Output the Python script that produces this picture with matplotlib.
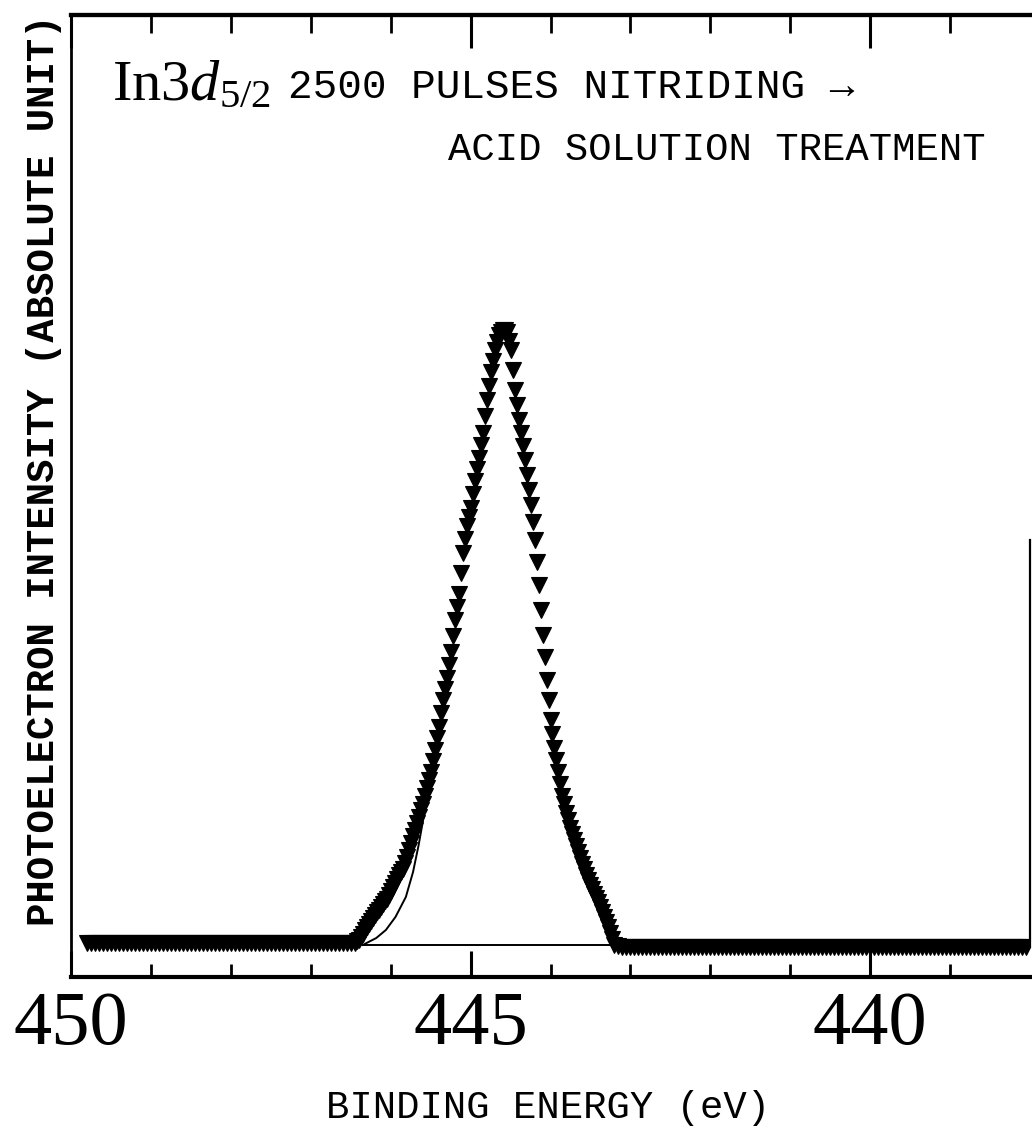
import matplotlib
matplotlib.use("Agg")
import matplotlib.pyplot as plt
from matplotlib.ticker import FixedLocator, NullFormatter, FixedFormatter

plt.rcParams['mathtext.fontset'] = 'custom'
plt.rcParams['mathtext.rm'] = 'Liberation Serif'
plt.rcParams['mathtext.it'] = 'Liberation Serif:italic'

# ---------------- data ----------------
left_base_energy = [
    449.80, 449.75, 449.70, 449.65, 449.60, 449.55, 449.50, 449.45, 449.40, 449.35,
    449.30, 449.25, 449.20, 449.15, 449.10, 449.05, 449.00, 448.95, 448.90, 448.85,
    448.80, 448.75, 448.70, 448.65, 448.60, 448.55, 448.50, 448.45, 448.40, 448.35,
    448.30, 448.25, 448.20, 448.15, 448.10, 448.05, 448.00, 447.95, 447.90, 447.85,
    447.80, 447.75, 447.70, 447.65, 447.60, 447.55, 447.50, 447.45, 447.40, 447.35,
    447.30, 447.25, 447.20, 447.15, 447.10, 447.05, 447.00, 446.95, 446.90, 446.85,
    446.80, 446.75, 446.70, 446.65, 446.60, 446.55, 446.50]
left_base_intensity = [
    0.34, 0.34, 0.34, 0.34, 0.34, 0.34, 0.34, 0.34, 0.34, 0.34,
    0.34, 0.34, 0.34, 0.34, 0.34, 0.34, 0.34, 0.34, 0.34, 0.34,
    0.34, 0.34, 0.34, 0.34, 0.34, 0.34, 0.34, 0.34, 0.34, 0.34,
    0.34, 0.34, 0.34, 0.34, 0.34, 0.34, 0.34, 0.34, 0.34, 0.34,
    0.34, 0.34, 0.34, 0.34, 0.34, 0.34, 0.34, 0.34, 0.34, 0.34,
    0.34, 0.34, 0.34, 0.34, 0.34, 0.34, 0.34, 0.34, 0.34, 0.34,
    0.34, 0.34, 0.34, 0.34, 0.34, 0.34, 0.34]

peak_energy = [
    446.450, 446.425, 446.400, 446.375, 446.350, 446.325, 446.300, 446.275,
    446.250, 446.225, 446.200, 446.175, 446.150, 446.125, 446.100, 446.075,
    446.050, 446.025, 446.000, 445.975, 445.950, 445.925, 445.900, 445.875,
    445.850, 445.825, 445.800, 445.775, 445.750, 445.725, 445.700, 445.675,
    445.650, 445.625, 445.600, 445.575, 445.550, 445.525, 445.500, 445.475,
    445.450, 445.425, 445.400, 445.375, 445.350, 445.325, 445.300, 445.275,
    445.250, 445.225, 445.200, 445.175, 445.150, 445.125, 445.100, 445.075,
    445.050, 445.025, 445.000, 444.975, 444.950, 444.925, 444.900, 444.875,
    444.850, 444.825, 444.800, 444.775, 444.750, 444.725, 444.700, 444.675,
    444.650, 444.625, 444.600, 444.575, 444.550, 444.525, 444.500, 444.475,
    444.450, 444.425, 444.400, 444.375, 444.350, 444.325, 444.300, 444.275,
    444.250, 444.225, 444.200, 444.175, 444.150, 444.125, 444.100, 444.075,
    444.050, 444.025, 444.000, 443.975, 443.950, 443.925, 443.900, 443.875,
    443.850, 443.825, 443.800, 443.775, 443.750, 443.725, 443.700, 443.675,
    443.650, 443.625, 443.600, 443.575, 443.550, 443.525, 443.500, 443.475,
    443.450, 443.425, 443.400, 443.375, 443.350, 443.325, 443.300, 443.275,
    443.250, 443.225, 443.200]
peak_intensity = [
    0.34, 0.36, 0.37, 0.40, 0.43, 0.47, 0.50, 0.53,
    0.56, 0.59, 0.62, 0.65, 0.67, 0.70, 0.73, 0.76,
    0.78, 0.82, 0.86, 0.90, 0.94, 0.98, 1.02, 1.05,
    1.08, 1.14, 1.20, 1.27, 1.34, 1.41, 1.47, 1.54,
    1.60, 1.67, 1.73, 1.81, 1.89, 1.97, 2.05, 2.16,
    2.27, 2.39, 2.50, 2.64, 2.77, 2.88, 2.99, 3.12,
    3.25, 3.41, 3.57, 3.70, 3.83, 4.04, 4.24, 4.38,
    4.51, 4.60, 4.69, 4.83, 4.96, 5.08, 5.19, 5.32,
    5.44, 5.61, 5.77, 5.91, 6.05, 6.16, 6.27, 6.35,
    6.42, 6.45, 6.47, 6.47, 6.45, 6.36, 6.27, 6.07,
    5.87, 5.72, 5.57, 5.44, 5.31, 5.17, 5.02, 4.87,
    4.72, 4.55, 4.37, 4.15, 3.92, 3.67, 3.42, 3.20,
    2.97, 2.77, 2.57, 2.43, 2.29, 2.17, 2.05, 1.93,
    1.81, 1.73, 1.64, 1.57, 1.49, 1.43, 1.37, 1.31,
    1.25, 1.19, 1.13, 1.08, 1.02, 0.97, 0.92, 0.88,
    0.83, 0.79, 0.75, 0.70, 0.65, 0.60, 0.55, 0.50,
    0.44, 0.38, 0.32]

right_base_energy = [
    443.15, 443.10, 443.05, 443.00, 442.95, 442.90, 442.85, 442.80, 442.75, 442.70,
    442.65, 442.60, 442.55, 442.50, 442.45, 442.40, 442.35, 442.30, 442.25, 442.20,
    442.15, 442.10, 442.05, 442.00, 441.95, 441.90, 441.85, 441.80, 441.75, 441.70,
    441.65, 441.60, 441.55, 441.50, 441.45, 441.40, 441.35, 441.30, 441.25, 441.20,
    441.15, 441.10, 441.05, 441.00, 440.95, 440.90, 440.85, 440.80, 440.75, 440.70,
    440.65, 440.60, 440.55, 440.50, 440.45, 440.40, 440.35, 440.30, 440.25, 440.20,
    440.15, 440.10, 440.05, 440.00, 439.95, 439.90, 439.85, 439.80, 439.75, 439.70,
    439.65, 439.60, 439.55, 439.50, 439.45, 439.40, 439.35, 439.30, 439.25, 439.20,
    439.15, 439.10, 439.05, 439.00, 438.95, 438.90, 438.85, 438.80, 438.75, 438.70,
    438.65, 438.60, 438.55, 438.50, 438.45, 438.40, 438.35, 438.30, 438.25, 438.20,
    438.15, 438.10, 438.05]
right_base_intensity = [
    0.31, 0.30, 0.30, 0.30, 0.30, 0.30, 0.30, 0.30, 0.30, 0.30,
    0.30, 0.30, 0.30, 0.30, 0.30, 0.30, 0.30, 0.30, 0.30, 0.30,
    0.30, 0.30, 0.30, 0.30, 0.30, 0.30, 0.30, 0.30, 0.30, 0.30,
    0.30, 0.30, 0.30, 0.30, 0.30, 0.30, 0.30, 0.30, 0.30, 0.30,
    0.30, 0.30, 0.30, 0.30, 0.30, 0.30, 0.30, 0.30, 0.30, 0.30,
    0.30, 0.30, 0.30, 0.30, 0.30, 0.30, 0.30, 0.30, 0.30, 0.30,
    0.30, 0.30, 0.30, 0.30, 0.30, 0.30, 0.30, 0.30, 0.30, 0.30,
    0.30, 0.30, 0.30, 0.30, 0.30, 0.30, 0.30, 0.30, 0.30, 0.30,
    0.30, 0.30, 0.30, 0.30, 0.30, 0.30, 0.30, 0.30, 0.30, 0.30,
    0.30, 0.30, 0.30, 0.30, 0.30, 0.30, 0.30, 0.30, 0.30, 0.30,
    0.30, 0.30, 0.30]

# thin fitted lines
fit_toe_energy = [446.35, 446.18, 446.06, 445.94, 445.81, 445.72, 445.65, 445.56]
fit_toe_intensity = [0.32, 0.39, 0.47, 0.60, 0.80, 1.05, 1.32, 1.72]
background_energy = [446.35, 443.22]
background_intensity = [0.32, 0.32]

major_ticks = [450, 445, 440]
major_labels = ["450", "445", "440"]
minor_ticks = [449, 448, 447, 446, 444, 443, 442, 441, 439]

energy = left_base_energy + peak_energy + right_base_energy
intensity = left_base_intensity + peak_intensity + right_base_intensity

# ---------------- figure ----------------
W, H = 1032, 1138
fig = plt.figure(figsize=(W / 100, H / 100), dpi=100)
ax = fig.add_axes([71 / W, 1 - 977 / H, 959 / W, 962 / H])

ax.plot(background_energy, background_intensity, color='black', lw=1.4)
ax.plot(fit_toe_energy, fit_toe_intensity, color='black', lw=1.4)
ax.plot(energy, intensity, linestyle='none', marker='v', markersize=11,
        color='black', markeredgecolor='black', markeredgewidth=0.8, clip_on=True)

ax.set_xlim(450, 438)
ax.set_ylim(0, 9.62)

for side in ['top', 'bottom']:
    ax.spines[side].set_linewidth(3.0)
ax.spines['left'].set_linewidth(2.0)
ax.spines['right'].set_linewidth(1.6)
ax.spines['right'].set_bounds(0.30, 4.37)

ax.set_yticks([])
ax.xaxis.set_major_locator(FixedLocator(major_ticks))
ax.xaxis.set_major_formatter(FixedFormatter(major_labels))
ax.xaxis.set_minor_locator(FixedLocator(minor_ticks))
ax.xaxis.set_minor_formatter(NullFormatter())
ax.tick_params(axis='x', which='major', direction='in', length=19, width=2.2,
               bottom=True, top=False, pad=10)
ax.tick_params(axis='x', which='minor', direction='in', length=9.5, width=2.0,
               bottom=True, top=False)
for lab in ax.get_xticklabels():
    lab.set_fontfamily('Liberation Serif')
    lab.set_fontsize(55)

sec = ax.secondary_xaxis('top')
sec.set_xticks(major_ticks)
sec.xaxis.set_minor_locator(FixedLocator(minor_ticks))
sec.xaxis.set_major_formatter(NullFormatter())
sec.xaxis.set_minor_formatter(NullFormatter())
sec.tick_params(axis='x', which='major', direction='in', length=24, width=2.2)
sec.tick_params(axis='x', which='minor', direction='in', length=13, width=2.0)
sec.spines['top'].set_linewidth(3.0)

# ---------------- texts ----------------
def fx(px):
    return px / W

def fy(py):
    return 1 - py / H

fig.text(fx(112), fy(100), r"$\mathrm{In3}d_{5/2}$", fontsize=42,
         ha='left', va='baseline')
fig.text(fx(288), fy(98), "2500 PULSES NITRIDING \u2192",
         family=['Liberation Mono', 'DejaVu Sans'], fontsize=29.5,
         ha='left', va='baseline')
fig.text(fx(448), fy(160), "ACID SOLUTION TREATMENT",
         family=['Liberation Mono', 'DejaVu Sans'], fontsize=28,
         ha='left', va='baseline')
fig.text(fx(44), fy(470), "PHOTOELECTRON INTENSITY (ABSOLUTE UNIT)",
         family='Liberation Mono', fontweight='bold', fontsize=28,
         rotation=90, ha='center', va='center')
fig.text(fx(548), fy(1108), "BINDING ENERGY (eV)",
         family='Liberation Mono', fontsize=28, ha='center', va='center')

fig.savefig("out.png", dpi=100)
